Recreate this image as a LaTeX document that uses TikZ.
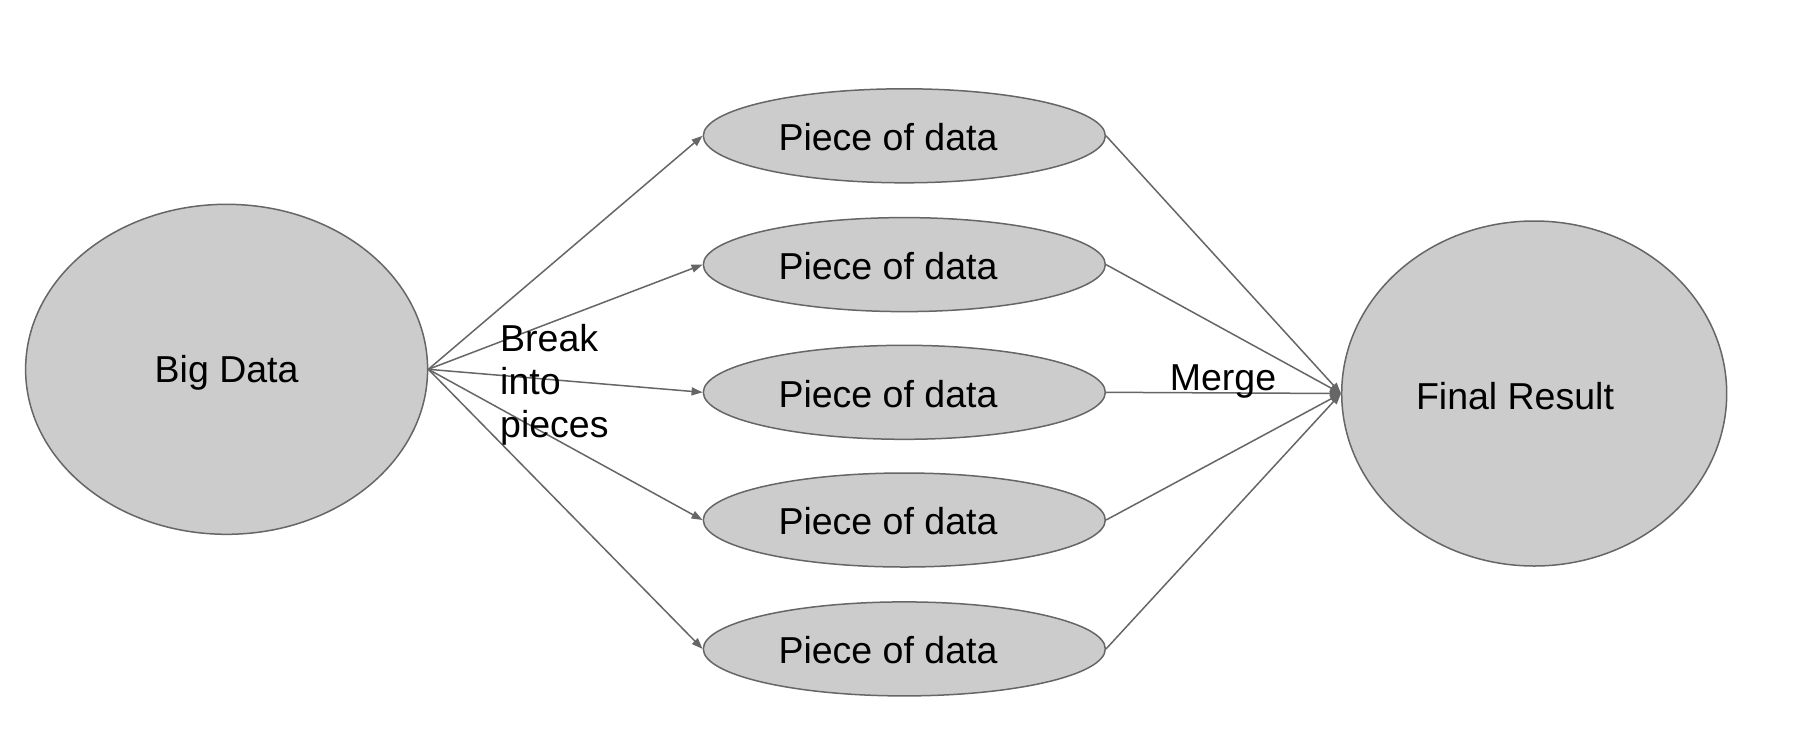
\documentclass[tikz,border=0pt]{standalone}
\usepackage{fontspec}
\setmainfont{Liberation Sans}
\usetikzlibrary{arrows.meta,shapes.geometric}
\definecolor{fillg}{HTML}{CCCCCC}
\definecolor{lineg}{HTML}{666666}
\begin{document}
\begin{tikzpicture}[x=1pt,y=-1pt,
  blob/.style={ellipse,draw=lineg,fill=fillg,line width=1.5pt,inner sep=0pt},
  conn/.style={draw=lineg,line width=1.5pt,-{Triangle[length=11pt,width=8pt]}},
  lbl/.style={font=\fontsize{37.5}{43}\selectfont,inner sep=0pt}]
\useasboundingbox[fill=white] (0,0) rectangle (1804,748);
\node[blob,minimum width=402pt,minimum height=330pt] (big) at (226.6,369.3) {};
\node[lbl] (bigt) at (226.6,373) {Big Data};
\foreach \i/\y in {1/135.8,2/264.6,3/392.3,4/520,5/648.9}{
  \node[blob,minimum width=402pt,minimum height=94pt] (p\i) at (904.3,\y) {};
  \node[lbl] (pt\i) at (888,\y+1.5) {Piece of data};
}
\node[blob,minimum width=385pt,minimum height=345pt] (fin) at (1534.2,393.5) {};
\node[lbl] (fint) at (1515,396) {Final Result};
\foreach \i in {1,...,5}{
  \draw[conn] (big.east) -- (p\i.west);
  \draw[conn] (p\i.east) -- (fin.west);
}
\node[lbl,align=left,anchor=north west] (brk) at (500,324) {Break\\into\\pieces};
\node[lbl] (mrg) at (1223,381) {Merge};
\end{tikzpicture}
\end{document}
